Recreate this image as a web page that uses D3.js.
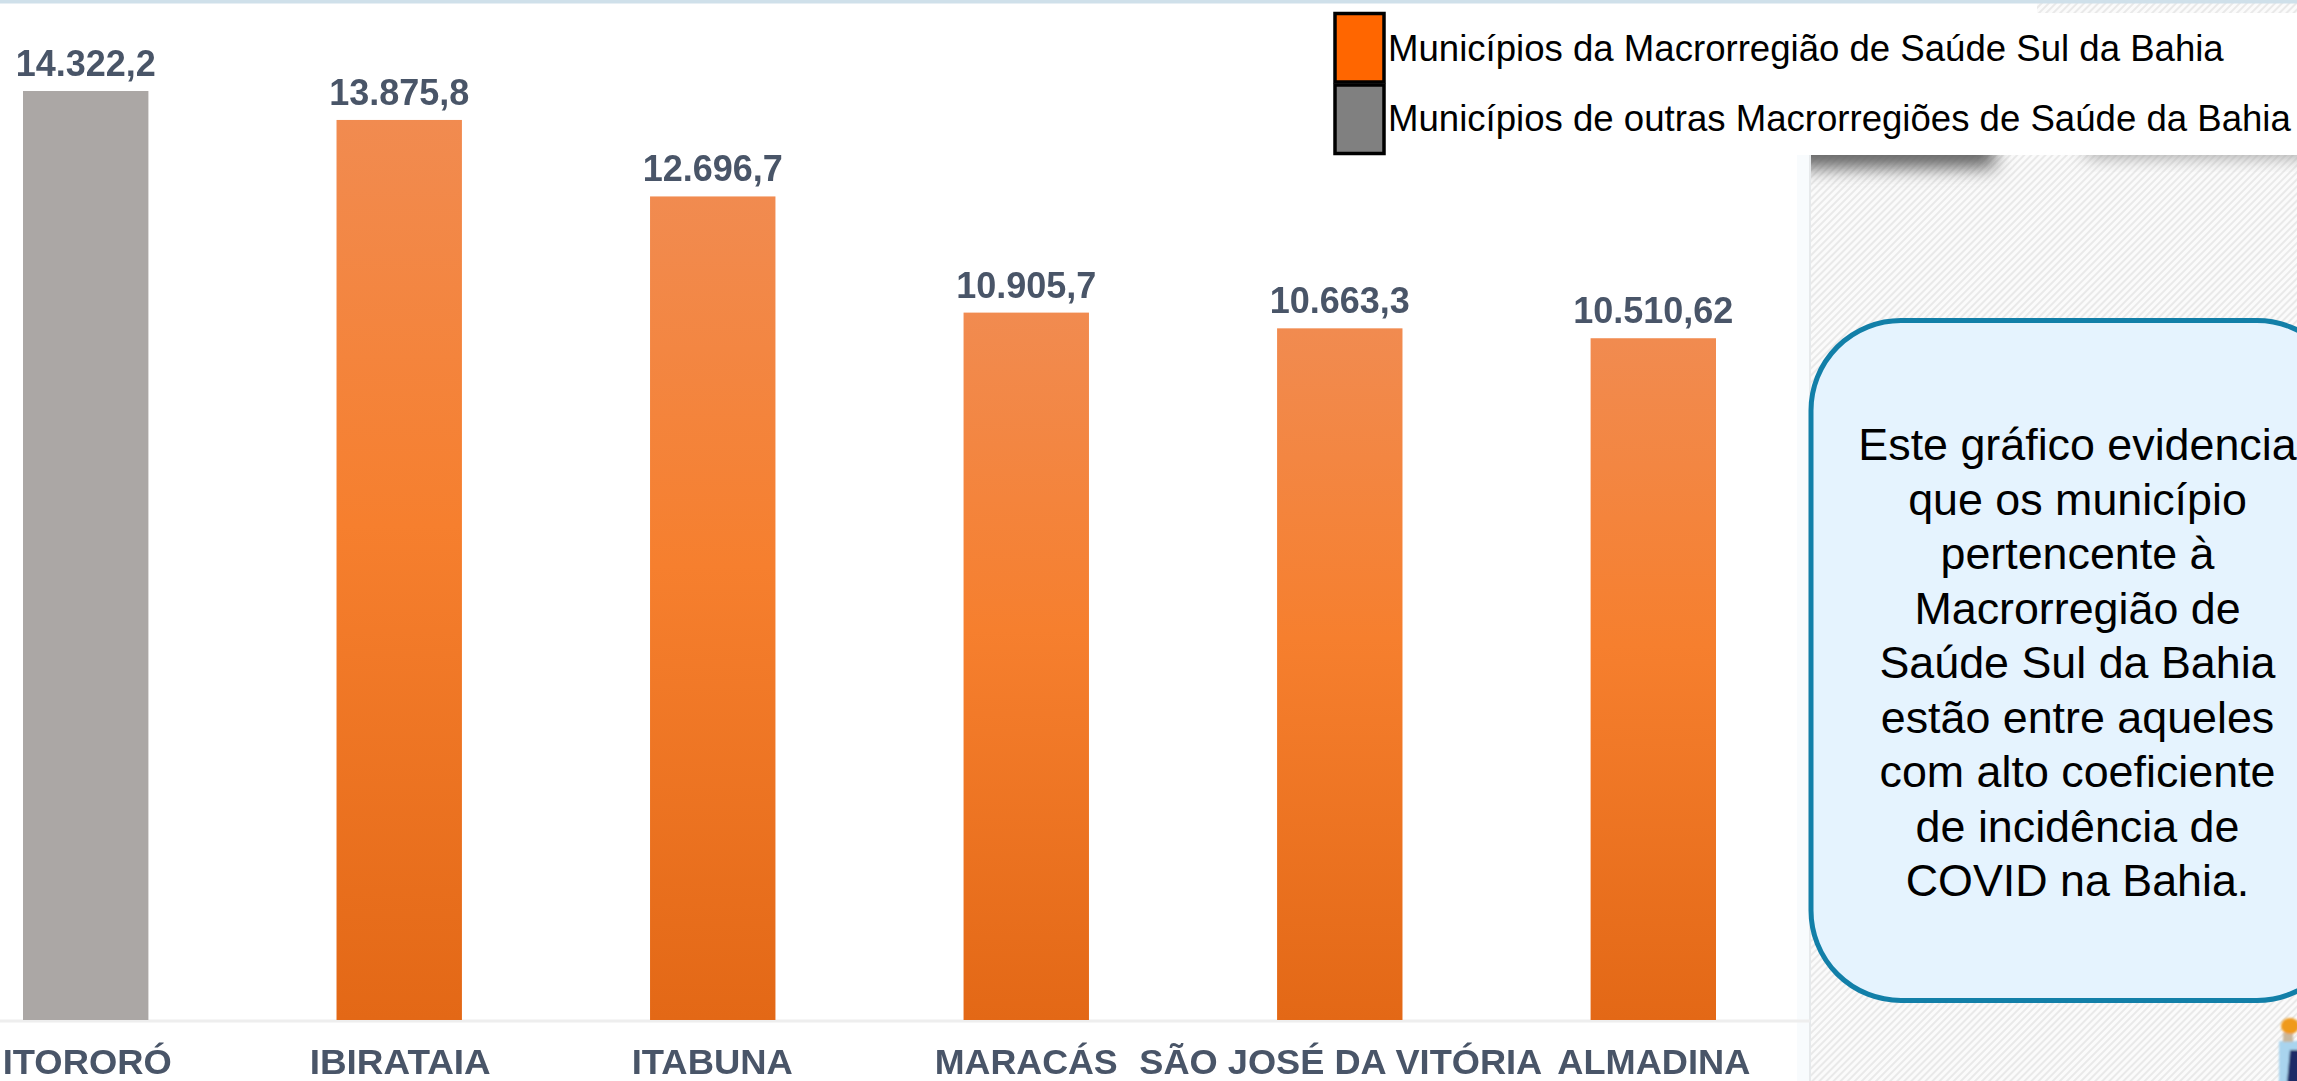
<!DOCTYPE html>
<html>
<head>
<meta charset="utf-8">
<script src="https://cdn.jsdelivr.net/npm/d3@7"></script>
<style>
body { margin: 0; background: #fff; overflow: hidden; }
svg { display: block; }
text { font-family: "Liberation Sans", Arial, sans-serif; }
</style>
</head>
<body>
<div id="chart"></div>
<script>
let width = 2297;
let height = 1081;

let municipios = ["ITORORÓ", "IBIRATAIA", "ITABUNA", "MARACÁS", "SÃO JOSÉ DA VITÓRIA", "ALMADINA"];
let valores = [14322.2, 13875.8, 12696.7, 10905.7, 10663.3, 10510.62];
let rotulos = ["14.322,2", "13.875,8", "12.696,7", "10.905,7", "10.663,3", "10.510,62"];
let grupos = ["outras", "sul", "sul", "sul", "sul", "sul"];
let legenda = ["Municípios da Macrorregião de Saúde Sul da Bahia", "Municípios de outras Macrorregiões de Saúde da Bahia"];
let corLegenda = ["#ff6600", "#808080"];
let texto = ["Este gráfico evidencia", "que os município", "pertencente à", "Macrorregião de", "Saúde Sul da Bahia", "estão entre aqueles", "com alto coeficiente", "de incidência de", "COVID na Bahia."];

// ajuste dos nomes: no original a largura varia de um para outro
let larguraNome = [169, 181, 161, 183, 403, 193];
let deslocaNome = [1.5, 1, -0.5, 0, 1, 0.5];

let svg = d3.select("#chart")
	.append("svg")
	.attr("width", width).attr("height", height);

let defs = svg.append("defs");

let hatch = defs.append("pattern")
	.attr("id", "hatch")
	.attr("width", 5).attr("height", 5)
	.attr("patternUnits", "userSpaceOnUse")
	.attr("patternTransform", "rotate(45)");
hatch.append("rect").attr("width", 5).attr("height", 5).attr("fill", "#fbfbfb");
hatch.append("rect").attr("width", 2).attr("height", 5).attr("fill", "#e9e9e9");

let gradSul = defs.append("linearGradient").attr("id", "gradSul").attr("x1", 0).attr("x2", 0).attr("y1", 0).attr("y2", 1);
gradSul.append("stop").attr("offset", "0%").attr("stop-color", "#f18b50");
gradSul.append("stop").attr("offset", "45%").attr("stop-color", "#f67f2e");
gradSul.append("stop").attr("offset", "100%").attr("stop-color", "#e36816");

defs.append("filter").attr("id", "blur1").append("feGaussianBlur").attr("stdDeviation", 0.7);
defs.append("filter").attr("id", "blur2").append("feGaussianBlur").attr("stdDeviation", 1.2);
defs.append("filter").attr("id", "sombra")
	.attr("x", "-20%").attr("y", "-100%").attr("width", "140%").attr("height", "300%")
	.append("feGaussianBlur").attr("stdDeviation", 9);
defs.append("clipPath").attr("id", "painel")
	.append("rect").attr("x", 1811).attr("y", 155).attr("width", width - 1811).attr("height", 100);

// painel da direita
svg.append("rect").attr("x", 1797).attr("y", 155).attr("width", 13).attr("height", height - 155).attr("fill", "#f8fbfd");
svg.append("rect").attr("x", 1810).attr("y", 0).attr("width", width - 1810).attr("height", height).attr("fill", "url(#hatch)");
svg.append("line").attr("x1", 1810).attr("x2", 1810).attr("y1", 155).attr("y2", height).attr("stroke", "#e6e9eb").attr("stroke-width", 2);
svg.append("rect").attr("x", 1810).attr("y", 0).attr("width", 227).attr("height", 13).attr("fill", "#fff");

// sombras debaixo da legenda
let sombras = svg.append("g").attr("clip-path", "url(#painel)");
sombras.append("rect").attr("x", 1780).attr("y", 130).attr("width", 215).attr("height", 38).attr("fill", "#666").attr("filter", "url(#sombra)");
sombras.append("rect").attr("x", 2085).attr("y", 140).attr("width", 240).attr("height", 16).attr("fill", "#999").attr("filter", "url(#sombra)");

svg.append("rect").attr("x", 1810).attr("y", 13).attr("width", width - 1810).attr("height", 142).attr("fill", "#fff");
svg.append("rect").attr("x", 0).attr("y", 0).attr("width", width).attr("height", 3.5).attr("fill", "#cfe0ea");

// barras
let x = d3.scaleBand().domain(municipios).range([23, 1716]).paddingInner(0.6);
let y = d3.scaleLinear().domain([0, 14322.2]).range([1020, 91]);

svg.append("line").attr("x1", 0).attr("x2", 1810).attr("y1", 1021).attr("y2", 1021).attr("stroke", "#eeeeee").attr("stroke-width", 3);

svg.selectAll(".barra").data(municipios)
	.join("rect")
	.attr("class", "barra")
	.attr("x", d => x(d))
	.attr("y", (d, i) => y(valores[i]))
	.attr("width", x.bandwidth())
	.attr("height", (d, i) => y(0) - y(valores[i]))
	.attr("fill", (d, i) => grupos[i] == "sul" ? "url(#gradSul)" : "#aba7a5");

svg.selectAll(".valor").data(rotulos)
	.join("text")
	.attr("class", "valor")
	.attr("x", (d, i) => x(municipios[i]) + x.bandwidth() / 2)
	.attr("y", (d, i) => y(valores[i]) - 15)
	.attr("text-anchor", "middle")
	.attr("font-size", 36).attr("font-weight", "bold")
	.attr("fill", "#4a5568")
	.attr("filter", "url(#blur1)")
	.text(d => d);

svg.selectAll(".nome").data(municipios)
	.join("text")
	.attr("class", "nome")
	.attr("x", (d, i) => x(d) + x.bandwidth() / 2 + deslocaNome[i])
	.attr("y", 1073.5)
	.attr("text-anchor", "middle")
	.attr("font-size", 34.5).attr("font-weight", "bold")
	.attr("textLength", (d, i) => larguraNome[i])
	.attr("lengthAdjust", "spacingAndGlyphs")
	.attr("fill", "#4a5568")
	.attr("filter", "url(#blur1)")
	.text(d => d);

// legenda
let legendaY = d3.scaleBand().domain(legenda).range([12, 155]);
svg.selectAll(".swatch").data(legenda)
	.join("rect")
	.attr("class", "swatch")
	.attr("x", 1335).attr("y", d => legendaY(d) + 1.5)
	.attr("width", 49).attr("height", legendaY.bandwidth() - 3)
	.attr("fill", (d, i) => corLegenda[i])
	.attr("stroke", "#000").attr("stroke-width", 3.5);

svg.selectAll(".legenda").data(legenda)
	.join("text")
	.attr("class", "legenda")
	.attr("x", 1388)
	.attr("y", (d, i) => 61 + i * 70)
	.attr("font-size", 36.6)
	.attr("fill", "#000")
	.text(d => d);

// caixa de texto
svg.append("rect")
	.attr("x", 1811).attr("y", 320.5)
	.attr("width", 536).attr("height", 680)
	.attr("rx", 90).attr("ry", 90)
	.attr("fill", "#e5f3fe")
	.attr("stroke", "#127fa8").attr("stroke-width", 5);

svg.selectAll(".texto").data(texto)
	.join("text")
	.attr("class", "texto")
	.attr("x", 2077.5)
	.attr("y", (d, i) => 460 + i * 54.5)
	.attr("text-anchor", "middle")
	.attr("font-size", 44.8)
	.attr("fill", "#000")
	.text(d => d);

// figurinha no canto
let figura = svg.append("g").attr("filter", "url(#blur2)");
figura.append("rect").attr("x", 2279).attr("y", 1041).attr("width", 20).attr("height", 42).attr("fill", "#a9d4ee");
figura.append("path").attr("d", "M2290 1050 L2299 1050 L2299 1083 L2287 1083 Z").attr("fill", "#1b2a66");
figura.append("rect").attr("x", 2283).attr("y", 1033).attr("width", 10).attr("height", 9).attr("fill", "#c9b79c");
figura.append("ellipse").attr("cx", 2290).attr("cy", 1026).attr("rx", 9).attr("ry", 8).attr("fill", "#ef9a1e");
</script>
</body>
</html>
